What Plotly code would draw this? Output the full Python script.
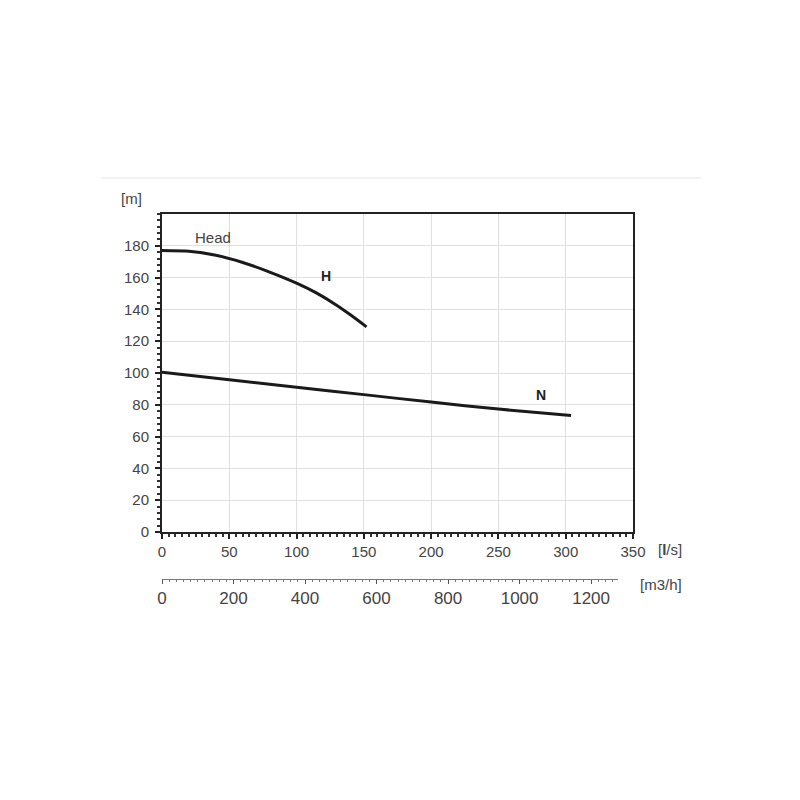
import plotly.graph_objects as go

# Data
flow_H = [0, 20, 40, 60, 80, 100, 115, 130, 140, 152]
head_H = [177, 176.5, 174, 169.5, 163.5, 156.5, 150.2, 142.5, 136.6, 129]
flow_N = [0, 50, 100, 150, 200, 250, 304]
val_N = [100.5, 95.7, 91.0, 86.4, 81.7, 77.3, 73.2]

x_ticks = [0, 50, 100, 150, 200, 250, 300, 350]
y_ticks = [0, 20, 40, 60, 80, 100, 120, 140, 160, 180]
m3h_ticks = [0, 200, 400, 600, 800, 1000, 1200]

FONT = "Liberation Sans, Arial, sans-serif"
TXT = "#444444"

fig = go.Figure()
fig.add_trace(go.Scatter(x=flow_H, y=head_H, mode="lines",
                         line=dict(color="#1a1a1a", width=3, shape="spline", smoothing=0.7),
                         showlegend=False, hoverinfo="skip"))
fig.add_trace(go.Scatter(x=flow_N, y=val_N, mode="lines",
                         line=dict(color="#1a1a1a", width=3, shape="spline", smoothing=0.7),
                         showlegend=False, hoverinfo="skip"))
# invisible trace to activate secondary axis
fig.add_trace(go.Scatter(x=[0, 1200], y=[0, 0], xaxis="x2", yaxis="y2",
                         mode="lines", line=dict(width=0), opacity=0,
                         showlegend=False, hoverinfo="skip"))

fig.update_layout(
    width=800, height=800,
    margin=dict(l=154, r=175, t=206, b=197),
    paper_bgcolor="white", plot_bgcolor="white",
    font=dict(family=FONT, size=15, color=TXT),
    xaxis=dict(range=[0, 350], tickvals=x_ticks, showgrid=True,
               gridcolor="#e0e0e0", gridwidth=1,
               showline=True, linecolor="#222", linewidth=2, mirror=True,
               ticks="outside", ticklen=5, tickcolor="#222", tickwidth=1.5,
               minor=dict(dtick=5, ticks="outside", ticklen=3,
                          tickcolor="#333", showgrid=False),
               tickfont=dict(size=15, color=TXT), zeroline=False,
               domain=[0, 1], anchor="y"),
    yaxis=dict(range=[0, 200], tickvals=y_ticks, showgrid=True,
               gridcolor="#e0e0e0", gridwidth=1,
               showline=True, linecolor="#222", linewidth=2, mirror=True,
               ticks="outside", ticklen=5, tickcolor="#222", tickwidth=1.5,
               minor=dict(dtick=4, ticks="outside", ticklen=3,
                          tickcolor="#333", showgrid=False),
               tickfont=dict(size=15, color=TXT), zeroline=False,
               domain=[0.199, 1], anchor="x", ticklabelstandoff=3),
    xaxis2=dict(range=[0, 1275], tickvals=m3h_ticks, showgrid=False,
                showline=True, linecolor="#777", linewidth=1,
                ticks="outside", ticklen=4, tickcolor="#555", tickwidth=1,
                minor=dict(dtick=20, ticks="outside", ticklen=2,
                           tickcolor="#777"),
                tickfont=dict(size=17, color=TXT), zeroline=False,
                domain=[0, 0.968], anchor="y2"),
    yaxis2=dict(domain=[0.0806, 0.09], visible=False, range=[0, 1]),
)

ann = [
    dict(text="Head", x=38, y=185, xref="x", yref="y", font=dict(size=15, color=TXT)),
    dict(text="<b>H</b>", x=122, y=161, xref="x", yref="y", font=dict(size=14, color="#222")),
    dict(text="<b>N</b>", x=281.5, y=86, xref="x", yref="y", font=dict(size=14, color="#222")),
    dict(text="[m]", x=-0.0637, y=1.040, xref="paper", yref="paper", font=dict(size=15, color=TXT)),
    dict(text="[<b>l</b>/s]", x=1.0786, y=0.1537, xref="paper", yref="paper", font=dict(size=15, color=TXT)),
    dict(text="[m3/h]", x=1.0594, y=0.068, xref="paper", yref="paper", font=dict(size=15, color=TXT)),
]
for a in ann:
    fig.add_annotation(showarrow=False, xanchor="center", yanchor="middle", **a)

fig.add_shape(type="line", xref="paper", yref="paper",
              x0=-0.1295, x1=1.1444, y0=1.0907, y1=1.0907,
              line=dict(color="#e6e6e6", width=1))

fig.write_html("out.html")
